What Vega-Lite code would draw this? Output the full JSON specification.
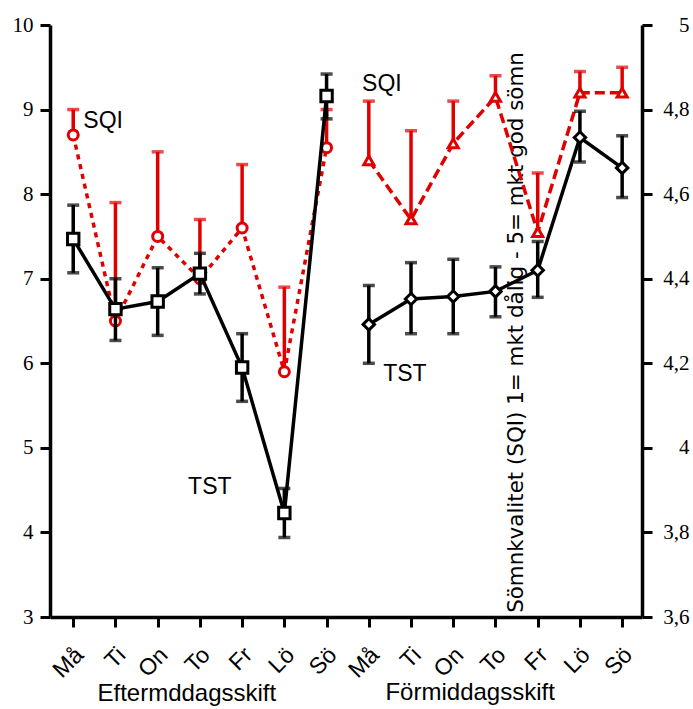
{
  "$schema": "https://vega.github.io/schema/vega-lite/v6.json",
  "width": 592,
  "height": 592,
  "autosize": {"type": "none"},
  "padding": {"left": 50, "top": 25, "right": 51, "bottom": 92},
  "background": "white",
  "config": {
    "view": {"stroke": null},
    "axis": {
      "domainColor": "black",
      "domainWidth": 3.5,
      "tickColor": "black",
      "tickWidth": 3,
      "tickSize": 10,
      "grid": false,
      "labelColor": "black",
      "titleColor": "black"
    },
    "axisLeft": {
      "labelFont": "Liberation Serif",
      "labelFontSize": 21,
      "labelPadding": 7
    },
    "axisRight": {
      "labelFont": "Liberation Serif",
      "labelFontSize": 21,
      "labelAlign": "right",
      "labelPadding": 37,
      "titleFont": "DejaVu Sans",
      "titleFontSize": 21.4,
      "titleFontWeight": "normal",
      "titleAngle": 270,
      "titleAlign": "center",
      "titleBaseline": "middle",
      "titleX": -126,
      "titleY": 307
    }
  },
  "datasets": {
    "tst": [
      {"i": 1, "shift": "Eftermiddag", "day": "Må", "tst": 7.47, "lo": 7.07, "hi": 7.87},
      {"i": 2, "shift": "Eftermiddag", "day": "Ti", "tst": 6.64, "lo": 6.27, "hi": 7.0},
      {"i": 3, "shift": "Eftermiddag", "day": "On", "tst": 6.73, "lo": 6.33, "hi": 7.13},
      {"i": 4, "shift": "Eftermiddag", "day": "To", "tst": 7.06, "lo": 6.82, "hi": 7.3},
      {"i": 5, "shift": "Eftermiddag", "day": "Fr", "tst": 5.95, "lo": 5.55, "hi": 6.35},
      {"i": 6, "shift": "Eftermiddag", "day": "Lö", "tst": 4.23, "lo": 3.94, "hi": 4.52},
      {"i": 7, "shift": "Eftermiddag", "day": "Sö", "tst": 9.16, "lo": 8.89, "hi": 9.42},
      {"i": 8, "shift": "Förmiddag", "day": "Må", "tst": 6.46, "lo": 6.0, "hi": 6.92},
      {"i": 9, "shift": "Förmiddag", "day": "Ti", "tst": 6.76, "lo": 6.35, "hi": 7.19},
      {"i": 10, "shift": "Förmiddag", "day": "On", "tst": 6.79, "lo": 6.35, "hi": 7.23},
      {"i": 11, "shift": "Förmiddag", "day": "To", "tst": 6.85, "lo": 6.55, "hi": 7.14},
      {"i": 12, "shift": "Förmiddag", "day": "Fr", "tst": 7.1, "lo": 6.78, "hi": 7.44},
      {"i": 13, "shift": "Förmiddag", "day": "Lö", "tst": 8.67, "lo": 8.38, "hi": 8.98},
      {"i": 14, "shift": "Förmiddag", "day": "Sö", "tst": 8.31, "lo": 7.96, "hi": 8.69}
    ],
    "sqi": [
      {"i": 1, "shift": "Eftermiddag", "day": "Må", "sqi": 4.74, "hi": 4.8},
      {"i": 2, "shift": "Eftermiddag", "day": "Ti", "sqi": 4.3, "hi": 4.58},
      {"i": 3, "shift": "Eftermiddag", "day": "On", "sqi": 4.5, "hi": 4.7},
      {"i": 4, "shift": "Eftermiddag", "day": "To", "sqi": 4.4, "hi": 4.54},
      {"i": 5, "shift": "Eftermiddag", "day": "Fr", "sqi": 4.52, "hi": 4.67},
      {"i": 6, "shift": "Eftermiddag", "day": "Lö", "sqi": 4.18, "hi": 4.38},
      {"i": 7, "shift": "Eftermiddag", "day": "Sö", "sqi": 4.71, "hi": 4.8},
      {"i": 8, "shift": "Förmiddag", "day": "Må", "sqi": 4.68, "hi": 4.82},
      {"i": 9, "shift": "Förmiddag", "day": "Ti", "sqi": 4.54, "hi": 4.75},
      {"i": 10, "shift": "Förmiddag", "day": "On", "sqi": 4.72, "hi": 4.82},
      {"i": 11, "shift": "Förmiddag", "day": "To", "sqi": 4.83, "hi": 4.88},
      {"i": 12, "shift": "Förmiddag", "day": "Fr", "sqi": 4.51, "hi": 4.65},
      {"i": 13, "shift": "Förmiddag", "day": "Lö", "sqi": 4.84, "hi": 4.89},
      {"i": 14, "shift": "Förmiddag", "day": "Sö", "sqi": 4.84, "hi": 4.9}
    ],
    "notes": [
      {"i": 1.24, "y": 8.87, "label": "SQI"},
      {"i": 7.84, "y": 9.3, "label": "SQI"},
      {"i": 3.72, "y": 4.54, "label": "TST"},
      {"i": 8.34, "y": 5.87, "label": "TST"}
    ],
    "groups": [
      {"i": 3.69, "y": 2.09, "label": "Eftermddagsskift"},
      {"i": 10.4, "y": 2.1, "label": "Förmiddagsskift"}
    ]
  },
  "encoding": {
    "x": {
      "field": "i",
      "type": "quantitative",
      "scale": {"domain": [0.45, 14.47], "nice": false, "zero": false},
      "axis": {
        "values": [1, 2, 3, 4, 5, 6, 7, 8, 9, 10, 11, 12, 13, 14],
        "labelExpr": "['', 'Må', 'Ti', 'On', 'To', 'Fr', 'Lö', 'Sö', 'Må', 'Ti', 'On', 'To', 'Fr', 'Lö', 'Sö'][datum.value]",
        "labelAngle": -45,
        "labelAlign": "right",
        "labelBaseline": "middle",
        "labelFont": "Liberation Sans",
        "labelFontSize": 23,
        "labelPadding": 24,
        "labelOffset": 6,
        "labelOverlap": false,
        "labelBound": false,
        "labelFlush": false,
        "title": null
      }
    }
  },
  "layer": [
    {
      "data": {"name": "sqi"},
      "layer": [
        {
          "mark": {"type": "rule", "color": "#e00000", "strokeWidth": 3.5},
          "encoding": {
            "y": {"field": "sqi", "type": "quantitative", "scale": {"domain": [3.6, 5], "nice": false, "zero": false},
              "axis": {"orient": "right", "values": [3.6, 3.8, 4, 4.2, 4.4, 4.6, 4.8, 5], "format": ".1~f", "labelExpr": "replace(datum.label, '.', ',')", "title": "Sömnkvalitet (SQI) 1= mkt dålig - 5= mkt god sömn"}},
            "y2": {"field": "hi"}
          }
        },
        {
          "mark": {"type": "tick", "orient": "horizontal", "color": "#e00000", "size": 12, "thickness": 3.5},
          "encoding": {
            "y": {"field": "hi", "type": "quantitative", "scale": {"domain": [3.6, 5], "nice": false, "zero": false},
              "axis": {"orient": "right", "values": [3.6, 3.8, 4, 4.2, 4.4, 4.6, 4.8, 5], "format": ".1~f", "labelExpr": "replace(datum.label, '.', ',')", "title": "Sömnkvalitet (SQI) 1= mkt dålig - 5= mkt god sömn"}}
          }
        },
        {
          "mark": {"type": "line", "color": "#e00000", "strokeWidth": 3.5},
          "encoding": {
            "y": {"field": "sqi", "type": "quantitative", "scale": {"domain": [3.6, 5], "nice": false, "zero": false},
              "axis": {"orient": "right", "values": [3.6, 3.8, 4, 4.2, 4.4, 4.6, 4.8, 5], "format": ".1~f", "labelExpr": "replace(datum.label, '.', ',')", "title": "Sömnkvalitet (SQI) 1= mkt dålig - 5= mkt god sömn"}},
            "detail": {"field": "shift"},
            "strokeDash": {"field": "shift", "type": "nominal", "scale": {"domain": ["Eftermiddag", "Förmiddag"], "range": [[5, 5], [10, 5]]}, "legend": null}
          }
        },
        {
          "mark": {"type": "point", "filled": true, "fill": "white", "stroke": "#e00000", "strokeWidth": 3, "opacity": 1},
          "encoding": {
            "y": {"field": "sqi", "type": "quantitative", "scale": {"domain": [3.6, 5], "nice": false, "zero": false},
              "axis": {"orient": "right", "values": [3.6, 3.8, 4, 4.2, 4.4, 4.6, 4.8, 5], "format": ".1~f", "labelExpr": "replace(datum.label, '.', ',')", "title": "Sömnkvalitet (SQI) 1= mkt dålig - 5= mkt god sömn"}},
            "shape": {"field": "shift", "type": "nominal", "scale": {"domain": ["Eftermiddag", "Förmiddag"], "range": ["circle", "triangle-up"]}, "legend": null},
            "size": {"value": 100}
          }
        }
      ]
    },
    {
      "data": {"name": "tst"},
      "layer": [
        {
          "mark": {"type": "rule", "color": "black", "strokeWidth": 3.5},
          "encoding": {
            "y": {"field": "lo", "type": "quantitative", "scale": {"domain": [3, 10], "nice": false, "zero": false},
              "axis": {"orient": "left", "values": [3, 4, 5, 6, 7, 8, 9, 10], "format": "d", "title": null}},
            "y2": {"field": "hi"}
          }
        },
        {
          "mark": {"type": "tick", "orient": "horizontal", "color": "black", "size": 12, "thickness": 3.5},
          "encoding": {
            "y": {"field": "hi", "type": "quantitative", "scale": {"domain": [3, 10], "nice": false, "zero": false},
              "axis": {"orient": "left", "values": [3, 4, 5, 6, 7, 8, 9, 10], "format": "d", "title": null}}
          }
        },
        {
          "mark": {"type": "tick", "orient": "horizontal", "color": "black", "size": 12, "thickness": 3.5},
          "encoding": {
            "y": {"field": "lo", "type": "quantitative", "scale": {"domain": [3, 10], "nice": false, "zero": false},
              "axis": {"orient": "left", "values": [3, 4, 5, 6, 7, 8, 9, 10], "format": "d", "title": null}}
          }
        },
        {
          "mark": {"type": "line", "color": "black", "strokeWidth": 3.5},
          "encoding": {
            "y": {"field": "tst", "type": "quantitative", "scale": {"domain": [3, 10], "nice": false, "zero": false},
              "axis": {"orient": "left", "values": [3, 4, 5, 6, 7, 8, 9, 10], "format": "d", "title": null}},
            "detail": {"field": "shift"}
          }
        },
        {
          "mark": {"type": "point", "filled": true, "fill": "white", "stroke": "black", "strokeWidth": 3, "opacity": 1},
          "encoding": {
            "y": {"field": "tst", "type": "quantitative", "scale": {"domain": [3, 10], "nice": false, "zero": false},
              "axis": {"orient": "left", "values": [3, 4, 5, 6, 7, 8, 9, 10], "format": "d", "title": null}},
            "shape": {"field": "shift", "type": "nominal", "scale": {"domain": ["Eftermiddag", "Förmiddag"], "range": ["square", "diamond"]}, "legend": null},
            "size": {"value": 130}
          }
        },
        {
          "data": {"name": "notes"},
          "mark": {"type": "text", "align": "left", "baseline": "middle", "font": "Liberation Sans", "fontSize": 23, "color": "black"},
          "encoding": {
            "y": {"field": "y", "type": "quantitative", "scale": {"domain": [3, 10], "nice": false, "zero": false},
              "axis": {"orient": "left", "values": [3, 4, 5, 6, 7, 8, 9, 10], "format": "d", "title": null}},
            "text": {"field": "label"}
          }
        },
        {
          "data": {"name": "groups"},
          "mark": {"type": "text", "align": "center", "baseline": "middle", "font": "Liberation Sans", "fontSize": 24, "color": "black"},
          "encoding": {
            "y": {"field": "y", "type": "quantitative", "scale": {"domain": [3, 10], "nice": false, "zero": false},
              "axis": {"orient": "left", "values": [3, 4, 5, 6, 7, 8, 9, 10], "format": "d", "title": null}},
            "text": {"field": "label"}
          }
        }
      ]
    }
  ],
  "resolve": {"scale": {"y": "independent", "shape": "independent", "strokeDash": "independent"}}
}
